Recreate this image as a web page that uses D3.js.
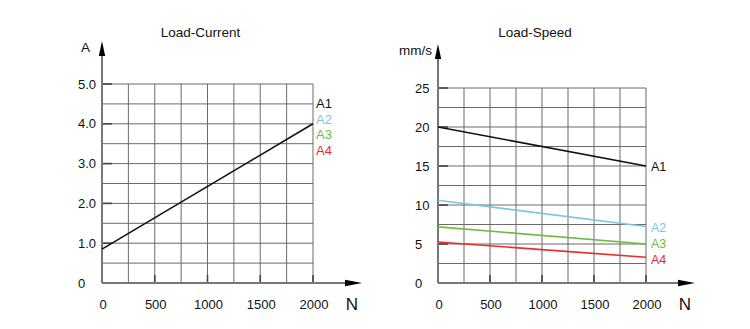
<!DOCTYPE html>
<html>
<head>
<meta charset="utf-8">
<script src="https://cdn.jsdelivr.net/npm/d3@7"></script>
<style>
  body { margin: 0; background: #fff; }
  svg { display: block; font-family: "Liberation Sans", Arial, sans-serif; }
</style>
</head>
<body>
<div id="chart"></div>
<script>
// load values (N) at the two ends of each line
const loadN = [0, 2000];
const xTickValues = [0, 500, 1000, 1500, 2000];

// Load-Current
const currentA = [0.85, 4.0];
const currentTicks = [0, 1, 2, 3, 4, 5];
const currentTickLabels = ["0", "1.0", "2.0", "3.0", "4.0", "5.0"];

// Load-Speed
const seriesNames = ["A1", "A2", "A3", "A4"];
const seriesColors = ["#111111", "#7ac6da", "#6cbd3e", "#e62f2d"];
const speedA1 = [20, 15];
const speedA2 = [10.6, 7.25];
const speedA3 = [7.2, 5.0];
const speedA4 = [5.25, 3.3];
const speedTicks = [0, 5, 10, 15, 20, 25];
const speedTickLabels = ["0", "5", "10", "15", "20", "25"];

const width = 750;
const height = 329;

var svg = d3.select("#chart").append("svg")
    .attr("width", width)
    .attr("height", height);

function panel(cfg) {
    var g = svg.append("g");
    var x = d3.scaleLinear().domain([0, 2000]).range(cfg.xRange);
    var y = d3.scaleLinear().domain([0, cfg.yMax]).range(cfg.yRange);

    // grid
    var grid = g.append("g").attr("stroke", "#6a6a6a").attr("stroke-width", 1);
    grid.selectAll("line.v")
        .data(d3.range(0, 2001, 250))
        .join("line")
        .attr("x1", d => x(d)).attr("x2", d => x(d))
        .attr("y1", y(0)).attr("y2", y(cfg.yMax));
    grid.selectAll("line.h")
        .data(d3.range(0, cfg.yMax + 0.001, cfg.yMax / 10))
        .join("line")
        .attr("x1", x(0)).attr("x2", x(2000))
        .attr("y1", d => y(d)).attr("y2", d => y(d));

    // inward ticks
    g.append("g").attr("stroke", "#444").attr("stroke-width", 1.6)
        .selectAll("line")
        .data(cfg.yTicks)
        .join("line")
        .attr("x1", x(0)).attr("x2", x(0) + 10)
        .attr("y1", d => y(d)).attr("y2", d => y(d));
    g.append("g").attr("stroke", "#444").attr("stroke-width", 1.6)
        .selectAll("line")
        .data(xTickValues)
        .join("line")
        .attr("x1", d => x(d)).attr("x2", d => x(d))
        .attr("y1", y(0)).attr("y2", y(0) - 8);

    // axes with arrows
    var x0 = x(0), y0 = y(0);
    g.append("line")
        .attr("x1", x0).attr("x2", x0)
        .attr("y1", y0).attr("y2", cfg.yArrow + 6)
        .attr("stroke", "#777").attr("stroke-width", 2);
    g.append("path")
        .attr("d", `M${x0},${cfg.yArrow} L${x0 - 3.2},${cfg.yArrow + 15} L${x0 + 3.2},${cfg.yArrow + 15} Z`)
        .attr("fill", "#000");
    g.append("line")
        .attr("x1", x0).attr("x2", cfg.xArrow - 6)
        .attr("y1", y0).attr("y2", y0)
        .attr("stroke", "#777").attr("stroke-width", 2);
    g.append("path")
        .attr("d", `M${cfg.xArrow},${y0} L${cfg.xArrow - 17},${y0 - 3.2} L${cfg.xArrow - 17},${y0 + 3.2} Z`)
        .attr("fill", "#000");

    // tick labels
    g.append("g").selectAll("text")
        .data(cfg.yTicks)
        .join("text")
        .attr("x", cfg.yLabelX)
        .attr("y", d => y(d) + 4.6)
        .attr("font-size", 13)
        .attr("fill", "#111")
        .text((d, i) => cfg.yTickLabels[i]);
    g.append("g").selectAll("text")
        .data(xTickValues)
        .join("text")
        .attr("x", d => x(d) + 1)
        .attr("y", 308.5)
        .attr("text-anchor", "middle")
        .attr("font-size", 13)
        .attr("fill", "#111")
        .text(d => d);

    // titles and units
    g.append("text")
        .attr("x", (cfg.xRange[0] + cfg.xRange[1]) / 2 - 7)
        .attr("y", 37)
        .attr("text-anchor", "middle")
        .attr("font-size", 13.5)
        .attr("fill", "#111")
        .text(cfg.title);
    g.append("text")
        .attr("x", x0 - cfg.unitGap)
        .attr("y", cfg.unitY)
        .attr("text-anchor", "end")
        .attr("font-size", 13.5)
        .attr("fill", "#111")
        .text(cfg.unit);
    g.append("text")
        .attr("x", cfg.xArrow - 10)
        .attr("y", 310)
        .attr("text-anchor", "middle")
        .attr("font-size", 17)
        .attr("fill", "#111")
        .text("N");

    return {g: g, x: x, y: y};
}

// Load-Current panel
var p1 = panel({
    title: "Load-Current", unit: "A", unitY: 52, unitGap: 12,
    xRange: [102, 313], yRange: [283, 84], yMax: 5,
    yArrow: 41, xArrow: 362, yLabelX: 78,
    yTicks: currentTicks, yTickLabels: currentTickLabels
});

var line1 = d3.line().x((d, i) => p1.x(loadN[i])).y(d => p1.y(d));
p1.g.append("path")
    .attr("d", line1(currentA))
    .attr("fill", "none")
    .attr("stroke", "#111")
    .attr("stroke-width", 1.6);

p1.g.append("g").selectAll("text")
    .data(seriesNames)
    .join("text")
    .attr("x", p1.x(2000) + 3)
    .attr("y", (d, i) => p1.y(4.5) + i * 15.5)
    .attr("dy", "0.35em")
    .attr("font-size", 13)
    .attr("fill", (d, i) => seriesColors[i])
    .text(d => d);

// Load-Speed panel
var p2 = panel({
    title: "Load-Speed", unit: "mm/s", unitY: 55, unitGap: 6,
    xRange: [438, 646], yRange: [283, 88], yMax: 25,
    yArrow: 44, xArrow: 695, yLabelX: 415,
    yTicks: speedTicks, yTickLabels: speedTickLabels
});

var speedSeries = [speedA1, speedA2, speedA3, speedA4];
var labelNudge = [1, 1, 0, 2];
var line2 = d3.line().x((d, i) => p2.x(loadN[i])).y(d => p2.y(d));
p2.g.append("g").selectAll("path")
    .data(speedSeries)
    .join("path")
    .attr("d", d => line2(d))
    .attr("fill", "none")
    .attr("stroke", (d, i) => seriesColors[i])
    .attr("stroke-width", 1.6);

p2.g.append("g").selectAll("text")
    .data(speedSeries)
    .join("text")
    .attr("x", p2.x(2000) + 5)
    .attr("y", (d, i) => p2.y(d[1]) + labelNudge[i])
    .attr("dy", "0.35em")
    .attr("font-size", 12.5)
    .attr("fill", (d, i) => seriesColors[i])
    .text((d, i) => seriesNames[i]);
</script>
</body>
</html>
